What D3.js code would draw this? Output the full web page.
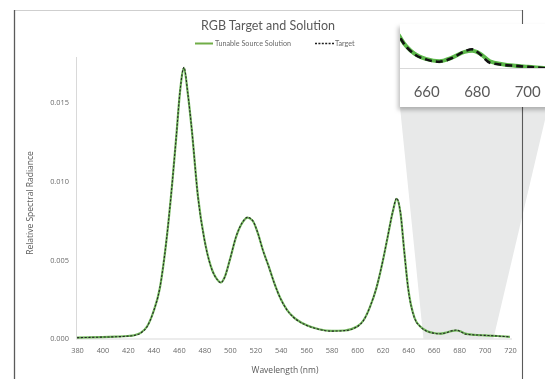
<!DOCTYPE html>
<html>
<head>
<meta charset="utf-8">
<script src="https://cdn.jsdelivr.net/npm/d3@7"></script>
<style>
  html, body { margin: 0; padding: 0; background: #fff; }
  svg { display: block; }
  text { font-family: Lato, "Open Sans", sans-serif; fill: #595959; }
</style>
</head>
<body>
<svg id="chart" width="545" height="379"></svg>
<script>
// Spectral samples (nm) and relative spectral radiance
const wavelengths = [380, 390, 400, 410, 420, 425, 430, 435, 440, 445, 450, 455, 458, 461, 464, 467, 470, 475, 480, 485,
  490, 493, 496, 500, 505, 510, 514, 518, 522, 526, 530, 535, 540, 545, 550, 560, 570, 580, 590, 600,
  605, 610, 615, 620, 624, 628, 631, 634, 637, 640, 645, 650, 655, 660, 665, 670, 675, 678, 681, 685,
  690, 695, 700, 710, 720];

const targetValues = [0.00005, 0.00007, 0.00009, 0.00011, 0.00015, 0.00020, 0.00035, 0.00075, 0.00170, 0.00320, 0.00610, 0.01010, 0.01290, 0.01580, 0.01725, 0.01560, 0.01340, 0.00900, 0.00630, 0.00460,
  0.00375, 0.00355, 0.00390, 0.00500, 0.00650, 0.00740, 0.00770, 0.00750, 0.00670, 0.00560, 0.00470, 0.00350, 0.00250, 0.00180, 0.00135, 0.00085, 0.00058, 0.00047, 0.00050, 0.00075,
  0.00115, 0.00200, 0.00320, 0.00490, 0.00650, 0.00810, 0.00892, 0.00800, 0.00550, 0.00320, 0.00130, 0.00072, 0.00045, 0.00034, 0.00030, 0.00037, 0.00050, 0.00054, 0.00045, 0.00028,
  0.00024, 0.00022, 0.00020, 0.00016, 0.00010];

const solutionValues = [0.00006, 0.00007, 0.00009, 0.00012, 0.00016, 0.00021, 0.00036, 0.00076, 0.00170, 0.00318, 0.00608, 0.01008, 0.01288, 0.01578, 0.01720, 0.01558, 0.01338, 0.00902, 0.00632, 0.00462,
  0.00376, 0.00356, 0.00391, 0.00500, 0.00648, 0.00738, 0.00768, 0.00748, 0.00670, 0.00561, 0.00471, 0.00351, 0.00251, 0.00181, 0.00136, 0.00086, 0.00059, 0.00048, 0.00051, 0.00076,
  0.00116, 0.00200, 0.00318, 0.00488, 0.00648, 0.00808, 0.00888, 0.00798, 0.00552, 0.00322, 0.00132, 0.00073, 0.00046, 0.00035, 0.00031, 0.00038, 0.00049, 0.00051, 0.00046, 0.00031,
  0.00025, 0.00022, 0.00020, 0.00016, 0.00010];

const yTicks = [0, 0.005, 0.010, 0.015];
const xTicks = d3.range(380, 721, 20);
const insetTicks = [660, 680, 700];
const seriesNames = ["Tunable Source Solution", "Target"];

const svg = d3.select("#chart");

const defs = svg.append("defs");
const shadow = defs.append("filter").attr("id", "boxShadow")
  .attr("x", "-20%").attr("y", "-20%").attr("width", "140%").attr("height", "150%");
shadow.append("feDropShadow").attr("dx", -2).attr("dy", 3).attr("stdDeviation", 2.2)
  .attr("flood-color", "#000").attr("flood-opacity", 0.25);
// Grayscale pass so small labels keep neutral anti-aliasing
const gray = defs.append("filter").attr("id", "grayText");
gray.append("feColorMatrix").attr("type", "saturate").attr("values", 0);

// Main scales
const x = d3.scaleLinear().domain([380, 720]).range([77, 510]);
const y = d3.scaleLinear().domain([0, 0.0179]).range([338.5, 57]);

const pts = vals => wavelengths.map((w, i) => [w, vals[i]]);

// Outer frame, top edge
svg.append("line").attr("x1", 14.5).attr("x2", 522).attr("y1", 10.5).attr("y2", 10.5)
  .attr("stroke", "#cfcfcf").attr("stroke-width", 1);

// Magnification wedge towards the inset
const insetLeft = 400, insetTop = 24, insetBottom = 107, insetAxisY = 68;
const xi = d3.scaleLinear().domain([660, 700]).range([426.7, 527.7]);
const yi = d3.scaleLinear().domain([0, 0.0005]).range([77.2, 51.35]);

svg.append("polygon")
  .attr("points", [[insetLeft, insetBottom], [548, insetBottom], [x(707), y(0)], [x(652), y(0)]].map(p => p.join(",")).join(" "))
  .attr("fill", "#e8e9e9");

// Axis lines
svg.append("line").attr("x1", 76.5).attr("x2", 76.5).attr("y1", 57).attr("y2", y(0))
  .attr("stroke", "#d9d9d9").attr("stroke-width", 1);
svg.append("line").attr("x1", 76).attr("x2", 512).attr("y1", y(0) + 0.5).attr("y2", y(0) + 0.5)
  .attr("stroke", "#d9d9d9").attr("stroke-width", 1);

// Y axis tick labels
const yAxis = d3.axisLeft(y).tickValues(yTicks).tickFormat(d3.format(".3f")).tickSize(0).tickPadding(7);
svg.append("g").attr("filter", "url(#grayText)").attr("transform", "translate(76,0)").call(yAxis)
  .call(g => g.select(".domain").remove())
  .selectAll("text").style("font-family", "'Open Sans', sans-serif").style("font-size", "7.4px").style("fill", "#6a6a6a");

// X axis tick labels
const xAxis = d3.axisBottom(x).tickValues(xTicks).tickFormat(d3.format("d")).tickSize(0).tickPadding(9);
svg.append("g").attr("filter", "url(#grayText)").attr("transform", `translate(0,${y(0)})`).call(xAxis)
  .call(g => g.select(".domain").remove())
  .selectAll("text").style("font-family", "'Open Sans', sans-serif").style("font-size", "7.4px").style("fill", "#6a6a6a");

// Axis titles
const titles = svg.append("g").attr("filter", "url(#grayText)");
titles.append("text").attr("x", 285).attr("y", 373).attr("text-anchor", "middle")
  .style("font-family", "'Open Sans', sans-serif").style("font-size", "8.5px").text("Wavelength (nm)");
titles.append("text").attr("transform", "translate(33,203) rotate(-90)").attr("text-anchor", "middle")
  .style("font-family", "'Open Sans', sans-serif").style("font-size", "8.5px").text("Relative Spectral Radiance");

// Main curves
const line = d3.line().x(d => x(d[0])).y(d => y(d[1])).curve(d3.curveMonotoneX);
svg.append("path").datum(pts(solutionValues)).attr("d", line)
  .attr("fill", "none").attr("stroke", "#72b85c").attr("stroke-width", 2.2);
svg.append("path").datum(pts(targetValues)).attr("d", line)
  .attr("fill", "none").attr("stroke", "#262626").attr("stroke-width", 1.1).attr("stroke-dasharray", "2.2,1.6");

// Title and legend
const head = svg.append("g");
head.append("text").attr("filter", "url(#grayText)").attr("x", 268).attr("y", 30).attr("text-anchor", "middle")
  .style("font-size", "12.5px").text("RGB Target and Solution");
head.append("line").attr("x1", 195).attr("x2", 213).attr("y1", 43.5).attr("y2", 43.5)
  .attr("stroke", "#70ad47").attr("stroke-width", 2);
head.append("text").attr("filter", "url(#grayText)").attr("x", 215).attr("y", 46)
  .style("font-size", "7.2px").style("fill", "#6a6a6a").text(seriesNames[0]);
head.append("line").attr("x1", 315).attr("x2", 334).attr("y1", 43.5).attr("y2", 43.5)
  .attr("stroke", "#1e1e1e").attr("stroke-width", 1.3).attr("stroke-dasharray", "2,1.4");
head.append("text").attr("filter", "url(#grayText)").attr("x", 335).attr("y", 46)
  .style("font-size", "7.2px").style("fill", "#6a6a6a").text(seriesNames[1]);

// Frame sides
svg.append("line").attr("x1", 14.5).attr("x2", 14.5).attr("y1", 10).attr("y2", 379)
  .attr("stroke", "#5a5a5a").attr("stroke-width", 1.3);
svg.append("line").attr("x1", 522.5).attr("x2", 522.5).attr("y1", 10).attr("y2", 379)
  .attr("stroke", "#5a5a5a").attr("stroke-width", 1.1);

// Inset: magnified view of the red tail
const inset = svg.append("g");
inset.append("rect").attr("x", insetLeft).attr("y", insetTop).attr("width", 170).attr("height", insetBottom - insetTop)
  .attr("fill", "#fff").attr("filter", "url(#boxShadow)");
defs.append("clipPath").attr("id", "insetClip").append("rect")
  .attr("x", insetLeft).attr("y", insetTop + 1).attr("width", 150).attr("height", insetAxisY - insetTop - 1);
inset.append("line").attr("x1", insetLeft).attr("x2", 545).attr("y1", insetAxisY + 0.5).attr("y2", insetAxisY + 0.5)
  .attr("stroke", "#d9d9d9").attr("stroke-width", 1);

const lineInset = d3.line().x(d => xi(d[0])).y(d => yi(d[1])).curve(d3.curveMonotoneX);
const insetCurves = inset.append("g").attr("clip-path", "url(#insetClip)");
insetCurves.append("path").datum(pts(solutionValues)).attr("d", lineInset)
  .attr("fill", "none").attr("stroke", "#5cb84a").attr("stroke-width", 4);
insetCurves.append("path").datum(pts(targetValues)).attr("d", lineInset)
  .attr("fill", "none").attr("stroke", "#111").attr("stroke-width", 2.6).attr("stroke-dasharray", "7,4");

inset.append("g").attr("filter", "url(#grayText)").selectAll("text").data(insetTicks).join("text")
  .attr("x", d => xi(d)).attr("y", 97).attr("text-anchor", "middle")
  .style("font-size", "15px").text(d => d);
</script>
</body>
</html>
